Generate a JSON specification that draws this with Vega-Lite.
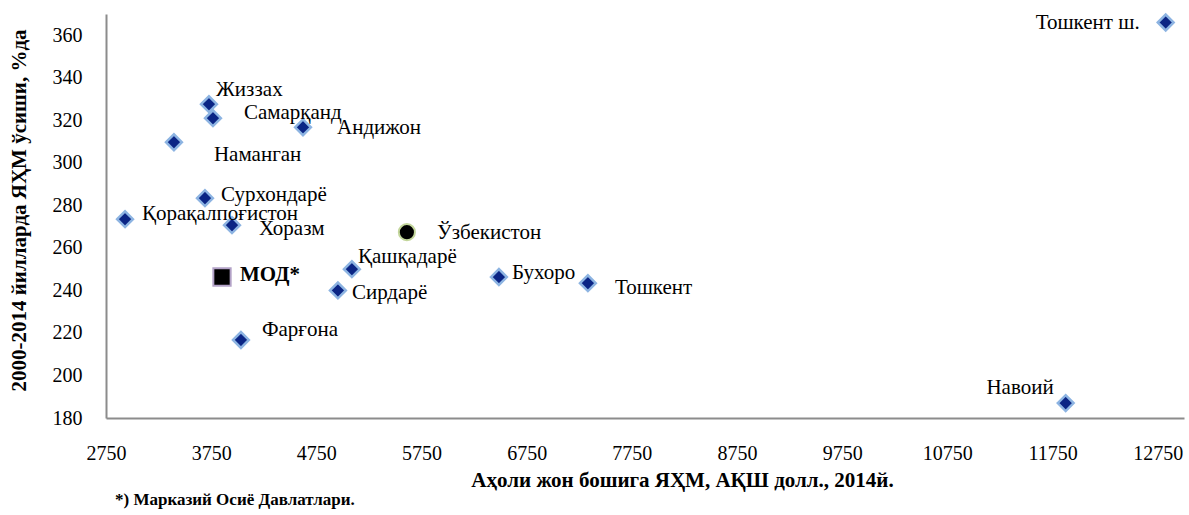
{
  "$schema": "https://vega.github.io/schema/vega-lite/v6.json",
  "autosize": {"type": "none"},
  "width": 1078,
  "height": 404,
  "padding": {"left": 106, "top": 14, "right": 5, "bottom": 97},
  "background": "white",
  "config": {
    "view": {"stroke": null},
    "font": "Liberation Serif",
    "text": {"font": "Liberation Serif", "fontSize": 21, "color": "#000000", "baseline": "middle", "align": "left"}
  },
  "title": {
    "text": "*) Марказий Осиё Давлатлари.",
    "orient": "bottom",
    "anchor": "start",
    "frame": "group",
    "font": "Liberation Serif",
    "fontSize": 17,
    "fontWeight": "bold",
    "color": "#000000",
    "offset": 2,
    "dx": 9
  },
  "data": {
    "values": [
      {"name": "Тошкент ш.", "x": 12826, "y": 366, "kind": "region"},
      {"name": "Жиззах", "x": 3729, "y": 327.6, "kind": "region"},
      {"name": "Самарқанд", "x": 3767, "y": 321, "kind": "region"},
      {"name": "Андижон", "x": 4623, "y": 316.7, "kind": "region"},
      {"name": "Наманган", "x": 3396, "y": 309.7, "kind": "region"},
      {"name": "Сурхондарё", "x": 3691, "y": 283.4, "kind": "region"},
      {"name": "Қорақалпоғистон", "x": 2931, "y": 273.5, "kind": "region"},
      {"name": "Хоразм", "x": 3948, "y": 270.7, "kind": "region"},
      {"name": "Қашқадарё", "x": 5088, "y": 250, "kind": "region"},
      {"name": "Сирдарё", "x": 4955, "y": 240, "kind": "region"},
      {"name": "Фарғона", "x": 4033, "y": 216.7, "kind": "region"},
      {"name": "Бухоро", "x": 6486, "y": 246.3, "kind": "region"},
      {"name": "Тошкент", "x": 7332, "y": 243.4, "kind": "region"},
      {"name": "Навоий", "x": 11875, "y": 187, "kind": "region"},
      {"name": "Ўзбекистон", "x": 5611, "y": 267.4, "kind": "country"},
      {"name": "МОД*", "x": 3853, "y": 246.3, "kind": "mod"}
    ]
  },
  "encoding": {
    "x": {
      "field": "x", "type": "quantitative",
      "scale": {"domain": [2750, 13000], "nice": false, "zero": false},
      "axis": {
        "title": "Аҳоли жон бошига ЯҲМ, АҚШ долл., 2014й.",
        "values": [2750, 3750, 4750, 5750, 6750, 7750, 8750, 9750, 10750, 11750, 12750],
        "format": "d",
        "grid": false, "ticks": false,
        "domainColor": "#8c8c8c", "domainWidth": 2,
        "labelFont": "Liberation Serif", "labelFontSize": 20, "labelColor": "#000000",
        "labelPadding": 25, "labelFlush": false, "labelOverlap": false,
        "titleFont": "Liberation Serif", "titleFontSize": 21, "titleFontWeight": "bold", "titleColor": "#000000",
        "titleX": 576, "titleY": 62, "titleAlign": "center", "titleBaseline": "middle"
      }
    },
    "y": {
      "field": "y", "type": "quantitative",
      "scale": {"domain": [180, 370], "nice": false, "zero": false},
      "axis": {
        "title": "2000-2014 йилларда ЯҲМ ўсиши, %да",
        "values": [180, 200, 220, 240, 260, 280, 300, 320, 340, 360],
        "grid": false, "ticks": false,
        "domainColor": "#8c8c8c", "domainWidth": 2,
        "labelFont": "Liberation Serif", "labelFontSize": 20, "labelColor": "#000000",
        "labelPadding": 24, "labelFlush": false, "labelOverlap": false,
        "titleFont": "Liberation Serif", "titleFontSize": 21, "titleFontWeight": "bold", "titleColor": "#000000",
        "titleX": -87, "titleY": 196, "titleAlign": "center", "titleBaseline": "middle", "titleAngle": 270
      }
    }
  },
  "layer": [
    {
      "transform": [{"filter": "datum.kind == 'region'"}],
      "mark": {"type": "point", "shape": "diamond", "filled": true, "size": 250, "fill": "#0b2585", "stroke": "#8db4e2", "strokeWidth": 2.5, "opacity": 1}
    },
    {
      "transform": [{"filter": "datum.kind == 'country'"}],
      "mark": {"type": "point", "shape": "circle", "filled": true, "size": 260, "fill": "#000000", "stroke": "#c3d69b", "strokeWidth": 2, "opacity": 1}
    },
    {
      "transform": [{"filter": "datum.kind == 'mod'"}],
      "mark": {"type": "point", "shape": "square", "filled": true, "size": 300, "fill": "#000000", "stroke": "#b3a2c7", "strokeWidth": 2, "opacity": 1}
    },
    {"transform": [{"filter": "datum.name == 'Тошкент ш.'"}], "mark": {"type": "text", "align": "right", "dx": -26, "dy": 0}, "encoding": {"text": {"field": "name"}}},
    {"transform": [{"filter": "datum.name == 'Жиззах'"}], "mark": {"type": "text", "dx": 7, "dy": -14}, "encoding": {"text": {"field": "name"}}},
    {"transform": [{"filter": "datum.name == 'Самарқанд'"}], "mark": {"type": "text", "dx": 31, "dy": -5}, "encoding": {"text": {"field": "name"}}},
    {"transform": [{"filter": "datum.name == 'Андижон'"}], "mark": {"type": "text", "dx": 34, "dy": 1}, "encoding": {"text": {"field": "name"}}},
    {"transform": [{"filter": "datum.name == 'Наманган'"}], "mark": {"type": "text", "dx": 40, "dy": 13}, "encoding": {"text": {"field": "name"}}},
    {"transform": [{"filter": "datum.name == 'Сурхондарё'"}], "mark": {"type": "text", "dx": 16, "dy": -3}, "encoding": {"text": {"field": "name"}}},
    {"transform": [{"filter": "datum.name == 'Қорақалпоғистон'"}], "mark": {"type": "text", "dx": 17, "dy": -5}, "encoding": {"text": {"field": "name"}}},
    {"transform": [{"filter": "datum.name == 'Хоразм'"}], "mark": {"type": "text", "dx": 27, "dy": 4}, "encoding": {"text": {"field": "name"}}},
    {"transform": [{"filter": "datum.name == 'МОД*'"}], "mark": {"type": "text", "dx": 18, "dy": -2, "fontWeight": "bold"}, "encoding": {"text": {"field": "name"}}},
    {"transform": [{"filter": "datum.name == 'Қашқадарё'"}], "mark": {"type": "text", "dx": 6, "dy": -12}, "encoding": {"text": {"field": "name"}}},
    {"transform": [{"filter": "datum.name == 'Сирдарё'"}], "mark": {"type": "text", "dx": 14, "dy": 3}, "encoding": {"text": {"field": "name"}}},
    {"transform": [{"filter": "datum.name == 'Фарғона'"}], "mark": {"type": "text", "dx": 21, "dy": -10}, "encoding": {"text": {"field": "name"}}},
    {"transform": [{"filter": "datum.name == 'Ўзбекистон'"}], "mark": {"type": "text", "dx": 30, "dy": 1}, "encoding": {"text": {"field": "name"}}},
    {"transform": [{"filter": "datum.name == 'Бухоро'"}], "mark": {"type": "text", "dx": 13, "dy": -4}, "encoding": {"text": {"field": "name"}}},
    {"transform": [{"filter": "datum.name == 'Тошкент'"}], "mark": {"type": "text", "dx": 27, "dy": 5}, "encoding": {"text": {"field": "name"}}},
    {"transform": [{"filter": "datum.name == 'Навоий'"}], "mark": {"type": "text", "align": "right", "dx": -12, "dy": -15}, "encoding": {"text": {"field": "name"}}}
  ]
}
